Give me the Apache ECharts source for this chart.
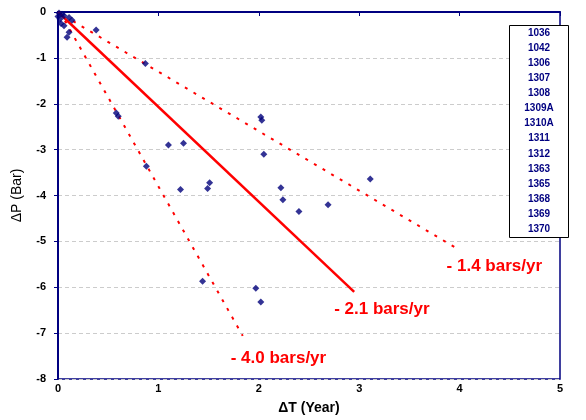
<!DOCTYPE html>
<html>
<head>
<meta charset="utf-8">
<script src="https://cdn.jsdelivr.net/npm/echarts@6/dist/echarts.min.js"></script>
<style>
  html, body { margin: 0; padding: 0; background: #fff; }
  #main { width: 586px; height: 420px; }
</style>
</head>
<body>
<div id="main"></div>
<script>
// measured points: [dT (year), dP (bar)]
const points = [
  [0.01, -0.02], [0.04, -0.05], [0.06, -0.08], [0.02, -0.15], [0.03, -0.25],
  [0.11, -0.12], [0.14, -0.18], [0.06, -0.3], [0.09, -0.55], [0.11, -0.44], [0.0, -0.1],
  [0.38, -0.39], [0.87, -1.12], [0.58, -2.2], [0.6, -2.27], [0.88, -3.36],
  [1.1, -2.9], [1.25, -2.86], [1.22, -3.87], [1.49, -3.85], [1.51, -3.72],
  [1.44, -5.87], [1.97, -6.02], [2.02, -6.32], [2.02, -2.29], [2.03, -2.36],
  [2.05, -3.1], [2.22, -3.83], [2.24, -4.09], [2.4, -4.35], [2.69, -4.2], [3.11, -3.64]
]

// trend lines
const trendMid = [[0, 0], [2.95, -6.1]]
const trendLow = [[0.15, -0.2], [3.97, -5.15]]
const trendHigh = [[0.02, 0], [1.84, -7.06]]
const trendNames = ['- 2.1 bars/yr', '- 1.4 bars/yr', '- 4.0 bars/yr']

const wellIds = ['1036', '1042', '1306', '1307', '1308', '1309A', '1310A',
  '1311', '1312', '1363', '1365', '1368', '1369', '1370']

const xTicks = [0, 5, 1]
const yTicks = [-8, 0, 1]

const navy = '#000080'
const red = '#ff0000'
const font = 'Liberation Sans, Arial, sans-serif'

var myChart = echarts.init(document.getElementById('main'))

const lineSeries = (data, name, dashed, offset) => {
  return {
    type: 'line',
    data: data.map((p, i) => {
      if (i !== data.length - 1) return p
      return {
        value: p,
        label: {
          show: true,
          position: 'inside',
          align: 'left',
          verticalAlign: 'middle',
          offset: offset,
          formatter: name,
          color: red,
          fontSize: 17,
          fontWeight: 'bold',
          fontFamily: font
        }
      }
    }),
    symbol: 'circle',
    symbolSize: 0,
    showSymbol: true,
    silent: true,
    itemStyle: { color: red, opacity: 1 },
    lineStyle: {
      color: red,
      width: dashed ? 2 : 2.5,
      type: dashed ? [3, 7] : 'solid'
    },
    z: 2
  }
}

const legendGraphics = [{
  type: 'rect',
  left: 509,
  top: 25,
  shape: { width: 59, height: 212 },
  style: { fill: '#fff', stroke: '#000', lineWidth: 1 },
  z: 10
}].concat(wellIds.map((id, i) => ({
  type: 'text',
  x: 539,
  y: 33 + i * 15.1,
  style: {
    text: id,
    fill: navy,
    font: 'bold 10px ' + font,
    align: 'center',
    verticalAlign: 'middle'
  },
  z: 11
})))

var option = {
  animation: false,
  grid: {
    left: 58,
    right: 26,
    top: 12,
    bottom: 40,
    show: true,
    borderColor: navy,
    borderWidth: 1.5
  },
  xAxis: {
    type: 'value',
    min: xTicks[0],
    max: xTicks[1],
    interval: xTicks[2],
    name: 'ΔT (Year)',
    nameLocation: 'middle',
    nameGap: 22,
    nameTextStyle: { color: '#000', fontSize: 14, fontWeight: 'bold', fontFamily: font },
    axisLine: { lineStyle: { color: navy, width: 2 } },
    axisTick: { show: true, length: 4, lineStyle: { color: navy } },
    axisLabel: { color: '#000', fontSize: 11, fontWeight: 'bold', fontFamily: font, margin: 4 },
    splitLine: { show: false }
  },
  yAxis: {
    type: 'value',
    min: yTicks[0],
    max: yTicks[1],
    interval: yTicks[2],
    name: 'ΔP (Bar)',
    nameLocation: 'middle',
    nameGap: 34,
    nameTextStyle: { color: '#000', fontSize: 14, fontFamily: font },
    axisLine: { lineStyle: { color: navy, width: 2 } },
    axisTick: { show: true, length: 4, lineStyle: { color: navy } },
    axisLabel: { color: '#000', fontSize: 11, fontWeight: 'bold', fontFamily: font, margin: 12 },
    splitLine: { show: true, lineStyle: { color: '#cccccc', type: [4, 3], width: 1 } }
  },
  series: [
    lineSeries(trendMid, trendNames[0], false, [-20, 17]),
    lineSeries(trendLow, trendNames[1], true, [-10, 18]),
    lineSeries(trendHigh, trendNames[2], true, [-12, 22]),
    {
      type: 'scatter',
      data: points,
      symbol: 'diamond',
      symbolSize: 7,
      itemStyle: { color: '#00007a' },
      z: 3
    }
  ],
  graphic: legendGraphics
}

myChart.setOption(option)
window.addEventListener('resize', () => {
  myChart.resize()
})
</script>
</body>
</html>
